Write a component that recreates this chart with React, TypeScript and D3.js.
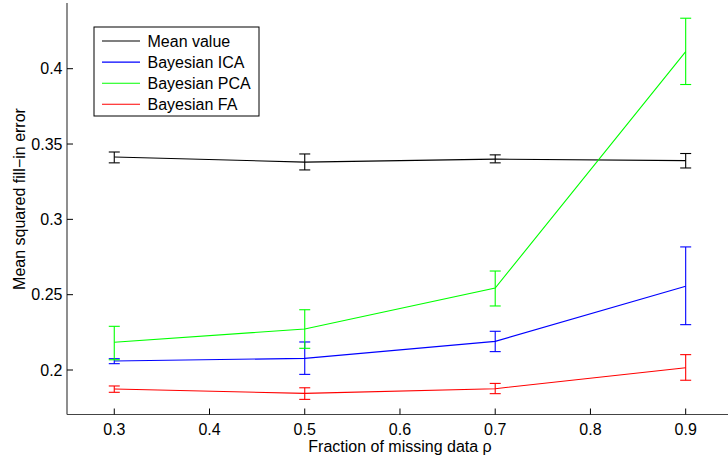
import React from "react";
import * as d3 from "d3";

const rho = [0.3, 0.5, 0.7, 0.9];
const seriesNames = ["Mean value", "Bayesian ICA", "Bayesian PCA", "Bayesian FA"];
const seriesColors = ["#000000", "#0000ff", "#00ff00", "#ff0000"];

const meanVal = [0.3414, 0.338, 0.34, 0.339];
const meanLo = [0.3375, 0.3328, 0.3375, 0.3341];
const meanHi = [0.3447, 0.3434, 0.3428, 0.3437];

const icaVal = [0.206, 0.2077, 0.219, 0.2556];
const icaLo = [0.2042, 0.1971, 0.2122, 0.2301];
const icaHi = [0.2075, 0.2186, 0.2257, 0.2817];

const pcaVal = [0.2184, 0.2272, 0.2544, 0.4113];
const pcaLo = [0.2068, 0.2144, 0.2425, 0.3895];
const pcaHi = [0.229, 0.24, 0.2657, 0.4335];

const faVal = [0.1874, 0.1845, 0.1876, 0.2015];
const faLo = [0.1852, 0.1805, 0.1843, 0.1932];
const faHi = [0.1894, 0.1882, 0.1911, 0.2102];

const xTicks = [0.3, 0.4, 0.5, 0.6, 0.7, 0.8, 0.9];
const yTicks = [0.2, 0.25, 0.3, 0.35, 0.4];

const W = 728;
const H = 460;
const FONT = "'Liberation Sans', Arial, Helvetica, sans-serif";

export default function App() {
  const x = d3.scaleLinear().domain([0.25, 0.95]).range([66.65, 733.3]);
  const y = d3.scaleLinear().domain([0.17, 0.444]).range([415.2, 2.4]);
  const x0 = 67;
  const yB = 414.5;
  const all = [
    { v: meanVal, lo: meanLo, hi: meanHi },
    { v: icaVal, lo: icaLo, hi: icaHi },
    { v: pcaVal, lo: pcaLo, hi: pcaHi },
    { v: faVal, lo: faLo, hi: faHi },
  ];
  const line = d3
    .line<number>()
    .x((_, i) => x(rho[i]))
    .y((d) => y(d));
  const cap = 5.5;
  return (
    <svg
      width={W}
      height={H}
      style={{ position: "absolute", left: 0, top: 0, background: "#fff" }}
      fontFamily={FONT}
    >
      <rect width={W} height={H} fill="#fff" />
      {all.map((s, k) => (
        <g key={k} stroke={seriesColors[k]} fill="none" strokeWidth={1.1}>
          <path d={line(s.v) || ""} />
          {rho.map((r, i) => (
            <g key={i}>
              <line x1={x(r)} x2={x(r)} y1={y(s.lo[i])} y2={y(s.hi[i])} />
              <line x1={x(r) - cap} x2={x(r) + cap} y1={y(s.lo[i])} y2={y(s.lo[i])} />
              <line x1={x(r) - cap} x2={x(r) + cap} y1={y(s.hi[i])} y2={y(s.hi[i])} />
            </g>
          ))}
        </g>
      ))}
      {/* axes */}
      <line x1={x0} x2={x0} y1={3} y2={yB} stroke="#444" strokeWidth={1.2} />
      <line x1={x0} x2={W} y1={yB} y2={yB} stroke="#444" strokeWidth={1.2} />
      {xTicks.map((t) => (
        <g key={t}>
          <line x1={x(t)} x2={x(t)} y1={yB} y2={yB - 6} stroke="#000" />
          <text x={x(t)} y={434.5} textAnchor="middle" fontSize={16} fill="#000">
            {t.toString()}
          </text>
        </g>
      ))}
      {yTicks.map((t) => (
        <g key={t}>
          <line x1={x0} x2={x0 + 6} y1={y(t)} y2={y(t)} stroke="#000" />
          <text x={62.5} y={y(t) + 5.7} textAnchor="end" fontSize={16} fill="#000">
            {t.toString()}
          </text>
        </g>
      ))}
      <text x={400} y={452} textAnchor="middle" fontSize={16} fill="#000">
        Fraction of missing data ρ
      </text>
      <text
        transform={`translate(25,199) rotate(-90)`}
        textAnchor="middle"
        fontSize={16}
        fill="#000"
      >
        Mean squared fill−in error
      </text>
      {/* legend */}
      <rect x={94} y={27} width={165} height={89} fill="#fff" stroke="#000" strokeWidth={1} />
      {seriesNames.map((n, i) => {
        const cy = 41 + i * 21.1;
        return (
          <g key={n}>
            <line x1={102} x2={140} y1={cy} y2={cy} stroke={seriesColors[i]} strokeWidth={1.1} />
            <text x={147.5} y={cy + 5.5} fontSize={16} fill="#000">
              {n}
            </text>
          </g>
        );
      })}
    </svg>
  );
}
